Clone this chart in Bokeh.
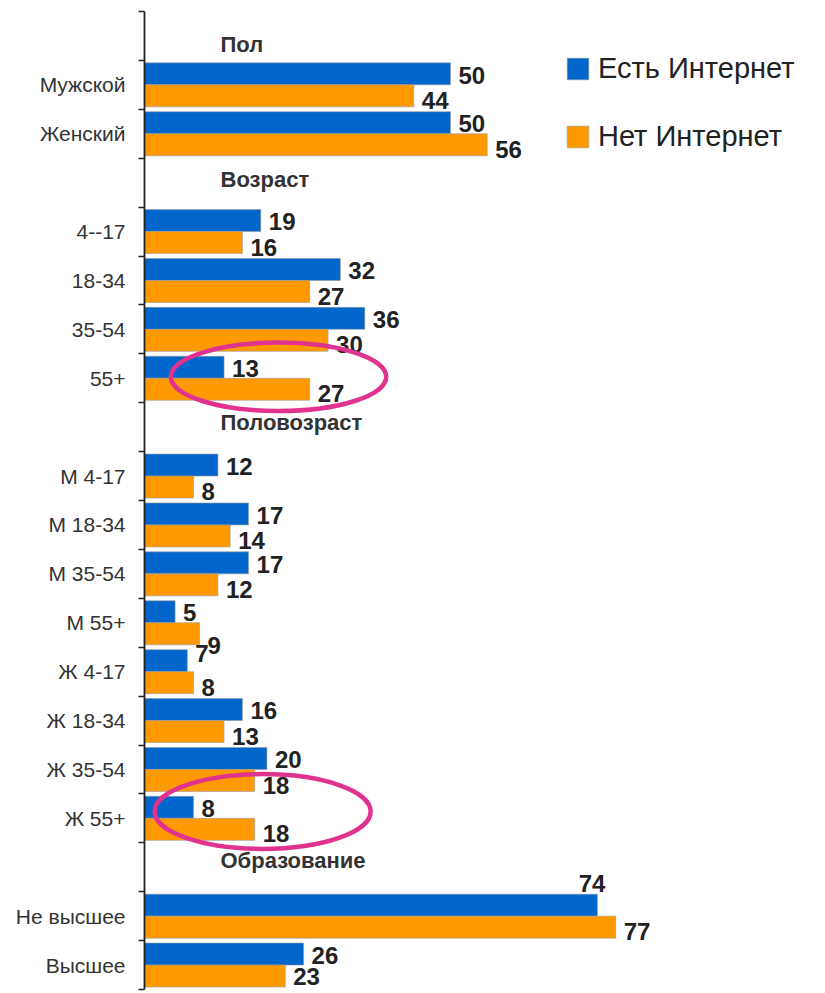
from bokeh.plotting import figure
from bokeh.models import (Range1d, FixedTicker, ColumnDataSource, Legend, LegendItem)
from bokeh.core.properties import value
from bokeh.embed import file_html
from bokeh.resources import INLINE

# ---------------- data ----------------
groups = ["Пол", "Возраст", "Половозраст", "Образование"]
group_rows = [
    ["Мужской", "Женский"],
    ["4--17", "18-34", "35-54", "55+"],
    ["М 4-17", "М 18-34", "М 35-54", "М 55+", "Ж 4-17", "Ж 18-34", "Ж 35-54", "Ж 55+"],
    ["Не высшее", "Высшее"],
]
has_internet = [50, 50, 19, 32, 36, 13, 12, 17, 17, 5, 7, 16, 20, 8, 74, 26]
no_internet = [44, 56, 16, 27, 30, 27, 8, 14, 12, 9, 8, 13, 18, 18, 77, 23]
series_names = ["Есть Интернет", "Нет Интернет"]
highlighted = ["55+", "Ж 55+"]

BLUE = "#0066CC"
ORANGE = "#FF9900"
PINK = "#E0338F"
FONT = "Liberation Sans"

# ---------------- layout of slots ----------------
slot_of_row = {}
header_slot = []
slot = 0
for g, rows in zip(groups, group_rows):
    header_slot.append(slot)
    slot += 1
    for r in rows:
        slot_of_row[r] = slot
        slot += 1
n_slots = slot
categories = [r for rows in group_rows for r in rows]

px_per_unit = 6.12
frame_w = 672
p = figure(width=816, height=992, output_backend="svg", toolbar_location=None,
           x_range=Range1d(0, frame_w / px_per_unit), y_range=Range1d(n_slots, 0),
           min_border_left=144, min_border_right=0, min_border_top=11, min_border_bottom=3)
p.xaxis.visible = False
p.xgrid.visible = False
p.ygrid.visible = False
p.outline_line_color = None

cy = [slot_of_row[c] for c in categories]
src = ColumnDataSource(dict(
    cat=categories,
    yb=[s + 0.275 for s in cy],
    yo=[s + 0.725 for s in cy],
    blue=has_internet,
    orange=no_internet,
))
rb = p.hbar(y="yb", height=0.45, left=0, right="blue", source=src,
            fill_color=BLUE, line_color="#9a9a9a", line_width=0.6)
ro = p.hbar(y="yo", height=0.45, left=0, right="orange", source=src,
            fill_color=ORANGE, line_color="#9a9a9a", line_width=0.6)

# axis
ax = p.yaxis[0]
centers = [s + 0.5 for s in range(n_slots)]
ax.ticker = FixedTicker(ticks=centers, minor_ticks=list(range(n_slots + 1)))
overrides = {s + 0.5: "" for s in range(n_slots)}
for c in categories:
    overrides[slot_of_row[c] + 0.5] = c
ax.major_label_overrides = overrides
ax.major_tick_out = 0
ax.major_tick_in = 0
ax.minor_tick_out = 6
ax.minor_tick_in = 0
ax.minor_tick_line_color = "#222222"
ax.minor_tick_line_width = 1.5
ax.axis_line_color = "#222222"
ax.axis_line_width = 1.8
ax.major_label_standoff = 13
ax.major_label_text_font = FONT
ax.major_label_text_font_size = "21px"
ax.major_label_text_color = "#333333"

# group headers
header_dy = [0.67, 0.43, 0.41, 0.37]
hsrc = ColumnDataSource(dict(x=[76 / px_per_unit] * len(groups),
                             y=[s + d for s, d in zip(header_slot, header_dy)],
                             t=groups))
p.text(x="x", y="y", text="t", source=hsrc, text_font=value(FONT),
       text_font_style="bold", text_font_size="22px", text_color="#333333",
       text_align="left", text_baseline="middle")

# value labels
label_adjust = {
    ("Не высшее", 0): dict(dy=-0.16, align="right", dx=7),
    ("Ж 4-17", 0): dict(dy=0.13),
    ("М 55+", 1): dict(dy=0.97),
    ("Высшее", 1): dict(dy=0.73),
}
lab = {"left": dict(x=[], y=[], t=[]), "right": dict(x=[], y=[], t=[])}
for c, b, o in zip(categories, has_internet, no_internet):
    for k, v in enumerate([b, o]):
        adj = label_adjust.get((c, k), {})
        dy = adj.get("dy", 0.3 if k == 0 else 0.82)
        align = adj.get("align", "left")
        lab[align]["x"].append(v)
        lab[align]["y"].append(slot_of_row[c] + dy)
        lab[align]["t"].append(str(v))
p.text(x="x", y="y", text="t", source=ColumnDataSource(lab["left"]), x_offset=8,
       text_font=value(FONT), text_font_style="bold", text_font_size="24px",
       text_color="#222222", text_align="left", text_baseline="middle")
p.text(x="x", y="y", text="t", source=ColumnDataSource(lab["right"]), x_offset=8,
       text_font=value(FONT), text_font_style="bold", text_font_size="24px",
       text_color="#222222", text_align="right", text_baseline="middle")

# highlight ellipses
ell_x = [21.9, 19.3]
ell_dy = [0.47, 0.36]
ell_w = [35.2, 35.3]
ell_h = [1.4, 1.53]
p.ellipse(x=ell_x, y=[slot_of_row[h] + d for h, d in zip(highlighted, ell_dy)],
          width=ell_w, height=ell_h, fill_alpha=0, line_color=PINK, line_width=4.5)

# legend
for r, name, loc in [(rb, series_names[0], (420, 904)), (ro, series_names[1], (420, 836))]:
    lg = Legend(items=[LegendItem(label=name, renderers=[r])], location=loc,
                padding=0, margin=0, border_line_alpha=0, background_fill_alpha=0,
                glyph_width=27, glyph_height=27, label_standoff=7,
                label_text_font=FONT, label_text_font_size="29px",
                label_text_color="#222222")
    p.add_layout(lg)

open("out.html", "w").write(file_html(p, INLINE))
